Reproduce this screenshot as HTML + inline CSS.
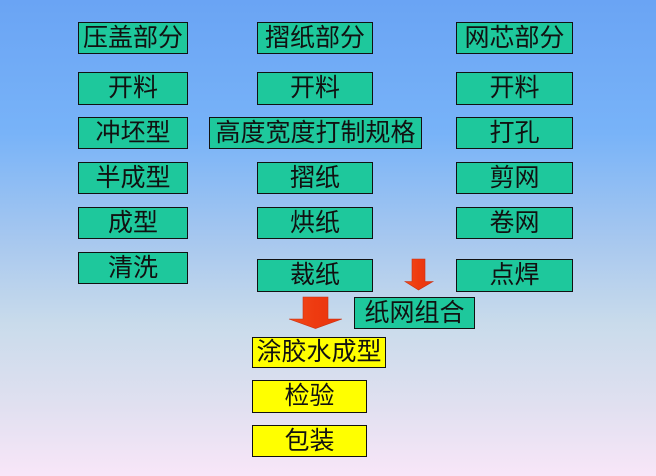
<!DOCTYPE html>
<html>
<head>
<meta charset="utf-8">
<style>
  html, body { margin:0; padding:0; }
  body {
    width:656px; height:476px; position:relative; overflow:hidden;
    background: linear-gradient(to bottom, #6aa4f4 0%, #78b3f8 28%, #a6c7ef 50%, #c9dbeb 68%, #e0e0f0 85%, #f8e6f8 100%);
    font-family: "Liberation Sans", "Noto Sans CJK SC", sans-serif;
  }
  .b {
    position:absolute; box-sizing:border-box;
    border:1.5px solid #111;
    background:#1ec89c;
    display:flex; align-items:center; justify-content:center;
    font-size:25px; color:#111; line-height:1; white-space:nowrap;
  }
  .y { background:#ffff00; }
  svg { position:absolute; left:0; top:0; }
</style>
</head>
<body>
<!-- column 1 -->
<div class="b" style="left:78px;top:22px;width:110px;height:32px;">压盖部分</div>
<div class="b" style="left:78px;top:72px;width:110px;height:33px;">开料</div>
<div class="b" style="left:78px;top:117px;width:110px;height:32px;">冲坯型</div>
<div class="b" style="left:78px;top:162px;width:110px;height:32px;">半成型</div>
<div class="b" style="left:78px;top:207px;width:110px;height:32px;">成型</div>
<div class="b" style="left:78px;top:252px;width:110px;height:32px;">清洗</div>
<!-- column 2 -->
<div class="b" style="left:257px;top:22px;width:116px;height:32px;">摺纸部分</div>
<div class="b" style="left:257px;top:72px;width:116px;height:33px;">开料</div>
<div class="b" style="left:209px;top:117px;width:213px;height:32px;">高度宽度打制规格</div>
<div class="b" style="left:257px;top:162px;width:116px;height:32px;">摺纸</div>
<div class="b" style="left:257px;top:207px;width:116px;height:32px;">烘纸</div>
<div class="b" style="left:257px;top:259px;width:116px;height:33px;">裁纸</div>
<!-- column 3 -->
<div class="b" style="left:456px;top:22px;width:117px;height:32px;">网芯部分</div>
<div class="b" style="left:456px;top:72px;width:117px;height:33px;">开料</div>
<div class="b" style="left:456px;top:117px;width:117px;height:32px;">打孔</div>
<div class="b" style="left:456px;top:162px;width:117px;height:32px;">剪网</div>
<div class="b" style="left:456px;top:207px;width:117px;height:32px;">卷网</div>
<div class="b" style="left:456px;top:259px;width:117px;height:33px;">点焊</div>
<!-- combine -->
<div class="b" style="left:354px;top:297px;width:121px;height:32px;">纸网组合</div>
<!-- yellow -->
<div class="b y" style="left:252px;top:337px;width:134px;height:31px;">涂胶水成型</div>
<div class="b y" style="left:252px;top:380px;width:115px;height:33px;">检验</div>
<div class="b y" style="left:252px;top:425px;width:115px;height:32px;">包装</div>

<svg width="656" height="476" viewBox="0 0 656 476">
  <defs>
    <linearGradient id="ar" x1="0" y1="0" x2="1" y2="0">
      <stop offset="0" stop-color="#f24a1a"/>
      <stop offset="0.5" stop-color="#ee3a10"/>
      <stop offset="1" stop-color="#e83410"/>
    </linearGradient>
  </defs>
  <polygon points="412,259 425,259 425,281.5 433,281.5 418.5,290 405,281.5 412,281.5"
           fill="url(#ar)" stroke="#c83010" stroke-width="0.6"/>
  <polygon points="303,297 328,297 328,319 342,319 315.5,328.5 289,319 303,319"
           fill="url(#ar)" stroke="#c83010" stroke-width="0.6"/>
</svg>
</body>
</html>
